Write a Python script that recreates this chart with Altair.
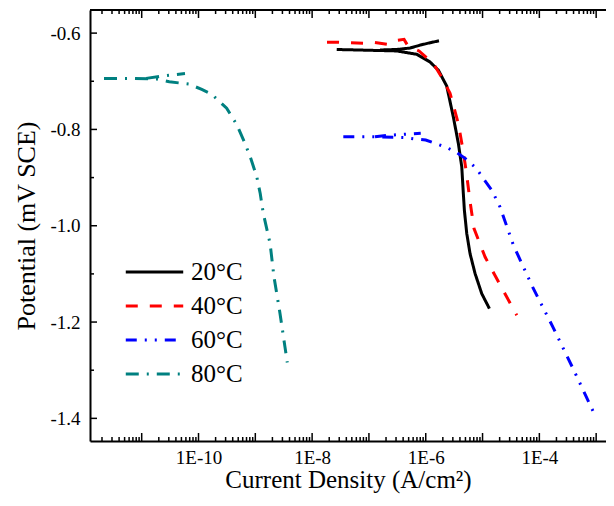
import altair as alt
import pandas as pd

# ---------------- data ----------------
series = ["20°C", "40°C", "60°C", "80°C"]
colors = ["black", "red", "blue", "#008080"]

# 20 °C
t20_cath_i = [2.71e-8, 3.08e-7, 6.95e-7, 1.19e-6, 1.67e-6, 2.34e-6, 3.06e-6, 3.75e-6, 4.31e-6,
              4.59e-6, 4.79e-6, 5.27e-6, 6.03e-6, 7.38e-6, 9.68e-6, 1.32e-5]
t20_cath_e = [-0.634, -0.637, -0.644, -0.660, -0.677, -0.710, -0.774, -0.829, -0.878,
              -0.933, -0.968, -1.016, -1.058, -1.099, -1.141, -1.172]
t20_anod_i = [1.57e-7, 3.08e-7, 5.30e-7, 7.94e-7, 1.19e-6, 1.71e-6]
t20_anod_e = [-0.635, -0.634, -0.631, -0.625, -0.620, -0.616]

# 40 °C
t40_i = [1.83e-8, 2.74e-8, 4.65e-8, 7.87e-8, 1.18e-7, 2.08e-7, 2.66e-7, 4.15e-7, 4.88e-7,
         7.62e-7, 1.36e-6, 1.94e-6, 2.68e-6, 3.75e-6, 4.59e-6, 5.27e-6, 6.03e-6, 7.08e-6,
         1.11e-5, 1.98e-5, 4.00e-5]
t40_e = [-0.619, -0.619, -0.620, -0.621, -0.619, -0.623, -0.616, -0.613, -0.627,
         -0.637, -0.663, -0.693, -0.725, -0.788, -0.847, -0.895, -0.950, -1.006,
         -1.065, -1.120, -1.186]

# 60 °C
t60_cath_i = [3.54e-8, 1.04e-7, 2.66e-7, 4.31e-7, 6.47e-7, 1.0e-6, 1.46e-6, 2.19e-6, 3.41e-6,
              4.92e-6, 7.69e-6, 1.03e-5, 1.45e-5, 2.03e-5, 3.48e-5, 7.59e-5, 1.76e-4, 3.97e-4,
              8.81e-4]
t60_cath_e = [-0.815, -0.815, -0.816, -0.817, -0.820, -0.822, -0.829, -0.836, -0.847,
              -0.860, -0.880, -0.902, -0.926, -0.961, -1.040, -1.127, -1.212, -1.298,
              -1.385]
t60_anod_i = [1.28e-7, 2.35e-7, 4.31e-7, 8.17e-7]
t60_anod_e = [-0.815, -0.812, -0.810, -0.808]

# 80 °C
t80_cath_i = [2.17e-12, 6.2e-12, 1.84e-11, 3.06e-11, 6.9e-11, 1.14e-10, 1.71e-10, 3.13e-10,
              4.71e-10, 6.59e-10, 8.3e-10, 1.06e-9, 1.22e-9, 1.38e-9, 1.82e-9, 2.13e-9,
              2.72e-9, 3.33e-9, 3.65e-9]
t80_cath_e = [-0.694, -0.694, -0.6955, -0.701, -0.706, -0.717, -0.727, -0.756,
              -0.790, -0.829, -0.860, -0.898, -0.933, -0.974, -1.037, -1.106,
              -1.182, -1.252, -1.284]
t80_anod_i = [1.2e-11, 2.34e-11, 3.37e-11, 5.78e-11]
t80_anod_e = [-0.694, -0.689, -0.687, -0.684]

# axis ticks
x_major = [1e-11, 1e-10, 1e-9, 1e-8, 1e-7, 1e-6, 1e-5, 1e-4, 1e-3]
x_label_vals = [1e-10, 1e-8, 1e-6, 1e-4]
x_minor = [m * 10.0 ** e for e in range(-12, -2) for m in range(2, 10)]
y_major = [-0.6, -0.8, -1.0, -1.2, -1.4]
y_minor = [-0.7, -0.9, -1.1, -1.3]

# ---------------- build table ----------------
rows = []
def add(name, branch, xs, ys):
    for k, (a, b) in enumerate(zip(xs, ys)):
        rows.append({"T": name, "branch": name + branch, "order": k, "i": a, "E": b})

add("20°C", "c", t20_cath_i, t20_cath_e)
add("20°C", "a", t20_anod_i, t20_anod_e)
add("40°C", "c", t40_i, t40_e)
add("60°C", "c", t60_cath_i, t60_cath_e)
add("60°C", "a", t60_anod_i, t60_anod_e)
add("80°C", "c", t80_cath_i, t80_cath_e)
add("80°C", "a", t80_anod_i, t80_anod_e)
df = pd.DataFrame(rows)

W, H = 516, 431
FONT = "Liberation Serif"
xscale = alt.Scale(type="log", domain=[1.23e-12, 1.49e-3], nice=False)
yscale = alt.Scale(domain=[-1.447, -0.552], nice=False, zero=False)

leg = dict(title=None, orient="none", legendX=34, legendY=245,
           symbolType="stroke", symbolSize=3300, symbolStrokeWidth=3,
           labelFont=FONT, labelFontSize=25, labelColor="black", labelOffset=6,
           padding=0, rowPadding=0, clipHeight=34)

lines = alt.Chart(df).mark_line(strokeWidth=3, clip=True).encode(
    x=alt.X("i:Q", scale=xscale,
            axis=alt.Axis(title="Current Density (A/cm²)", values=x_label_vals,
                          labelExpr="'1E-' + round(-log(datum.value)/LN10)",
                          ticks=False, grid=False, domainColor="black", domainWidth=2,
                          labelFont=FONT, labelFontSize=19, labelColor="black",
                          labelPadding=7, titleFont=FONT, titleFontSize=25,
                          titleFontWeight="normal", titleColor="black", titlePadding=0)),
    y=alt.Y("E:Q", scale=yscale,
            axis=alt.Axis(title="Potential (mV SCE)", values=y_major,
                          labelExpr="'-' + format(abs(datum.value), '.1f')",
                          ticks=False, grid=False, domainColor="black", domainWidth=2,
                          labelFont=FONT, labelFontSize=19, labelColor="black",
                          labelPadding=10, titleFont=FONT, titleFontSize=26,
                          titleFontWeight="normal", titleColor="black", titlePadding=10)),
    color=alt.Color("T:N", scale=alt.Scale(domain=series, range=colors),
                    legend=alt.Legend(**leg)),
    strokeDash=alt.StrokeDash("T:N", scale=alt.Scale(domain=series,
                              range=[[1, 0], [12, 12], [11, 8, 2, 8, 2, 8], [13, 8, 2, 8]]),
                              legend=alt.Legend(**leg)),
    detail="branch:N",
    order="order:Q",
)

def xticks(vals, y0, y1):
    return alt.Chart(pd.DataFrame({"v": vals})).mark_rule(color="black", strokeWidth=1.5).encode(
        x=alt.X("v:Q", scale=xscale, axis=None), y=alt.value(y0), y2=alt.value(y1))

def yticks(vals, ln):
    return alt.Chart(pd.DataFrame({"v": vals})).mark_rule(color="black", strokeWidth=1.5).encode(
        y=alt.Y("v:Q", scale=yscale, axis=None), x=alt.value(0), x2=alt.value(ln))

top = alt.Chart(pd.DataFrame({"a": [0]})).mark_rule(color="black", strokeWidth=2).encode(
    x=alt.value(0), x2=alt.value(W), y=alt.value(0))

chart = alt.layer(
    lines,
    xticks(x_major, H, H - 8), xticks(x_minor, H, H - 4),
    xticks(x_major, 0, 8), xticks(x_minor, 0, 4),
    yticks(y_major, 7), yticks(y_minor, 4),
    top,
).resolve_axis(x="independent", y="independent").properties(
    width=W, height=H,
    autosize=alt.AutoSizeParams(type="none"),
    padding={"left": 82, "top": 2, "right": 0, "bottom": 57},
).configure_view(stroke=None)

chart.save("out.html", embed_options={"renderer": "svg", "actions": False})
